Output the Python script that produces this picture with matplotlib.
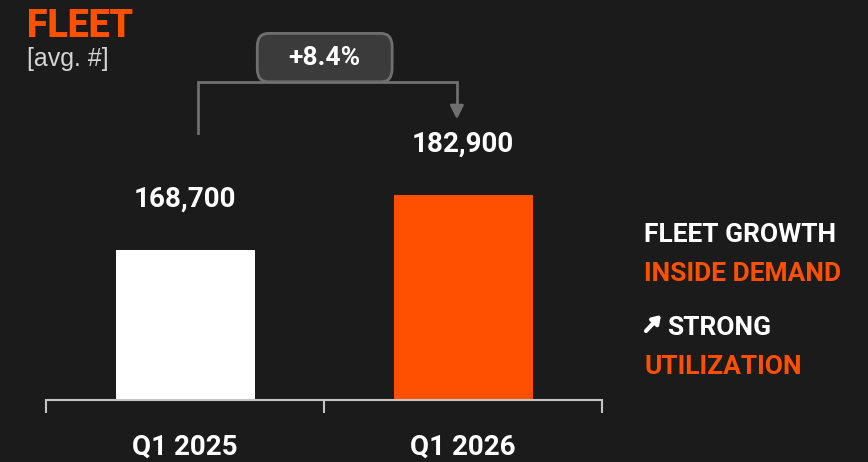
import matplotlib
matplotlib.use('Agg')
import matplotlib.pyplot as plt
from matplotlib.patches import FancyBboxPatch

categories = ['Q1 2025', 'Q1 2026']
fleet = [168700, 182900]

BG = '#1b1b1b'
ORANGE = '#ff5000'
GREY = '#6f6f6f'

plt.rcParams['font.family'] = ['Roboto', 'DejaVu Sans']

W, H = 868, 462
fig = plt.figure(figsize=(W / 100, H / 100), dpi=100, facecolor=BG)
ax = fig.add_axes([46 / W, 62 / H, 556 / W, 300 / H])
ax.set_facecolor(BG)

ax.bar([0, 1], fleet, width=0.5, bottom=0, color=['white', ORANGE])
ax.set_xlim(-0.5, 1.5)
ax.set_ylim(130000, 207500)

for s in ['top', 'left', 'right']:
    ax.spines[s].set_visible(False)
ax.spines['bottom'].set_color('#c4c4c4')
ax.spines['bottom'].set_linewidth(1.5)
ax.set_yticks([])
ax.set_xticks([0, 1])
ax.set_xticklabels(categories, fontsize=20, fontweight='bold', color='white')
ax.tick_params(axis='x', which='major', length=0, pad=24)
ax.set_xticks([-0.5, 0.5, 1.5], minor=True)
ax.tick_params(axis='x', which='minor', length=9.5, width=1.5, color='#c4c4c4', direction='out')

for i, v in enumerate(fleet):
    ax.annotate(f'{v:,}', (i, v), xytext=(0, 31), textcoords='offset points',
                ha='center', va='baseline', fontsize=20, fontweight='bold', color='white')

# growth bracket
pct = (fleet[1] / fleet[0] - 1) * 100
y_top = 212200
x0, x1 = 0.047, 0.978
ax.plot([x0, x0, x1, x1], [199000, y_top, y_top, 205000], color=GREY, lw=2, clip_on=False,
        solid_joinstyle='miter')
ax.annotate('', xy=(x1, 201800), xytext=(x1, 206000),
            arrowprops=dict(arrowstyle='-|>,head_length=0.8,head_width=0.4', color=GREY, lw=2),
            annotation_clip=False)
box = FancyBboxPatch((0.26, y_top), 0.485, 12500, boxstyle='round,pad=0,rounding_size=0.04',
                     mutation_aspect=12500 / 0.15, facecolor='#3b3b3b', edgecolor=GREY, lw=2,
                     clip_on=False, transform=ax.transData)
ax.add_patch(box)
ax.text(0.5025, y_top + 6250, f'+{pct:.1f}%', ha='center', va='center', fontsize=19,
        fontweight='bold', color='white', clip_on=False)

# titles
fig.text(27 / W, 1 - 37 / H, 'FLEET', fontsize=27, fontweight='heavy', color=ORANGE, va='baseline')
fig.text(27 / W, 1 - 66 / H, '[avg. #]', fontsize=18, fontweight='light', color='#d4d4d4',
         va='baseline', family=['Liberation Sans', 'DejaVu Sans'])

# side notes
tx = 644 / W
fig.text(tx, 1 - 242 / H, 'FLEET GROWTH', fontsize=19, fontweight='bold', color='white', va='baseline')
fig.text(tx, 1 - 281 / H, 'INSIDE DEMAND', fontsize=19, fontweight='bold', color=ORANGE, va='baseline')
fig.text(667 / W, 1 - 335 / H, 'STRONG', fontsize=19, fontweight='bold', color='white', va='baseline')
fig.text(tx, 1 - 374 / H, 'UTILIZATION', fontsize=19, fontweight='bold', color=ORANGE, va='baseline')
fig.add_artist(plt.Annotation('', xy=(661, H - 315), xytext=(646, H - 331),
                              xycoords='figure pixels', textcoords='figure pixels',
                              arrowprops=dict(arrowstyle='-|>,head_length=0.45,head_width=0.3',
                                              color='white', lw=3, shrinkA=0, shrinkB=0)))

fig.savefig('out.png', dpi=100, facecolor=BG)
